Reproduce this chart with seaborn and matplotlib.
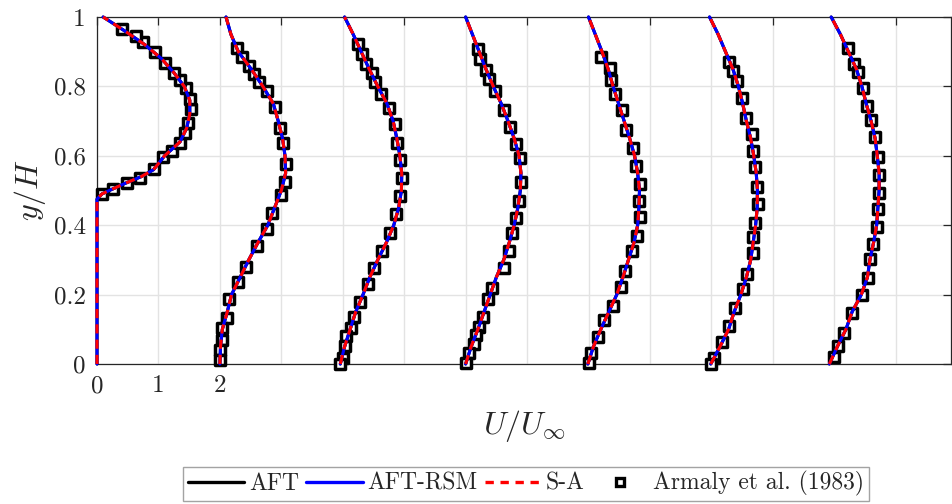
import numpy as np
import pandas as pd
import matplotlib
matplotlib.use("Agg")
import matplotlib.pyplot as plt
from matplotlib.lines import Line2D
import seaborn as sns

# ---------------- data ----------------
offsets = [0, 2, 4, 6, 8, 10, 12]          # horizontal shift of each station
xtick_pos = [0, 1, 2, 3, 5, 7, 9, 11, 13]
xtick_labels = ["0", "1", "2", "", "", "", "", "", ""]
ytick_pos = [0, 0.2, 0.4, 0.6, 0.8, 1.0]
ytick_labels = ["0", "0.2", "0.4", "0.6", "0.8", "1"]
models = ["AFT", "AFT-RSM", "S-A"]

# simulation profiles (all three models coincide within line width)
y_sim = [0, 0.05, 0.1, 0.15, 0.2, 0.25, 0.3, 0.35, 0.4, 0.45, 0.5,
         0.55, 0.6, 0.65, 0.7, 0.75, 0.8, 0.85, 0.9, 0.95, 1.0]
y_sim_1 = [0, 0.2, 0.4, 0.475, 0.49, 0.5, 0.52, 0.54, 0.56, 0.6, 0.64,
           0.68, 0.72, 0.76, 0.8, 0.84, 0.88, 0.92, 0.96, 1.0]
u_sim_1 = [0, 0, 0, 0, 0.08, 0.2, 0.45, 0.72, 0.92, 1.1, 1.35,
           1.46, 1.51, 1.51, 1.42, 1.25, 1.05, 0.78, 0.45, 0.1]
u_sim_2 = [0.0, 0.01, 0.04, 0.12, 0.19, 0.33, 0.47, 0.62, 0.78, 0.89, 1.0,
           1.07, 1.06, 1.02, 0.95, 0.87, 0.7, 0.51, 0.3, 0.18, 0.1]
u_sim_3 = [-0.04, 0.03, 0.12, 0.21, 0.33, 0.44, 0.57, 0.71, 0.83, 0.91, 0.955,
           0.96, 0.93, 0.88, 0.82, 0.72, 0.57, 0.43, 0.3, 0.17, 0.03]
u_sim_4 = [0.0, 0.09, 0.2, 0.3, 0.4, 0.5, 0.62, 0.71, 0.79, 0.85, 0.89,
           0.9, 0.87, 0.79, 0.69, 0.58, 0.45, 0.33, 0.22, 0.11, 0.0]
u_sim_5 = [-0.01, 0.08, 0.2, 0.33, 0.46, 0.56, 0.65, 0.74, 0.8, 0.82, 0.83,
           0.8, 0.75, 0.67, 0.58, 0.49, 0.4, 0.32, 0.22, 0.11, 0.0]
u_sim_6 = [-0.01, 0.14, 0.28, 0.37, 0.48, 0.57, 0.64, 0.68, 0.72, 0.745, 0.75,
           0.73, 0.69, 0.64, 0.57, 0.51, 0.44, 0.35, 0.23, 0.11, -0.03]
u_sim_7 = [-0.08, 0.05, 0.19, 0.29, 0.44, 0.54, 0.58, 0.64, 0.69, 0.71, 0.73,
           0.73, 0.7, 0.665, 0.6, 0.52, 0.45, 0.36, 0.23, 0.1, -0.05]

# Armaly et al. (1983) experiment
exp_u_1 = [0.076, 0.255, 0.483, 0.70, 0.927, 1.079, 1.215, 1.35, 1.432, 1.476,
           1.525, 1.513, 1.443, 1.35, 1.253, 1.106, 0.944, 0.753, 0.635, 0.407]
exp_y_1 = [0.489, 0.505, 0.522, 0.537, 0.561, 0.596, 0.614, 0.638, 0.666, 0.694,
           0.734, 0.763, 0.794, 0.818, 0.839, 0.867, 0.900, 0.927, 0.944, 0.965]
exp_u_2 = [0.272, 0.353, 0.477, 0.553, 0.64, 0.76, 0.895, 0.976, 1.03, 1.074, 1.057,
           0.987, 0.841, 0.76, 0.597, 0.423, 0.298, 0.151, 0.109, 0.037, 0.028, 0.0, 0.0]
exp_y_2 = [0.910, 0.886, 0.860, 0.836, 0.814, 0.787, 0.742, 0.681, 0.636, 0.576, 0.525,
           0.487, 0.436, 0.388, 0.340, 0.280, 0.237, 0.186, 0.132, 0.103, 0.069, 0.040, 0.012]
exp_u_3 = [0.249, 0.321, 0.386, 0.483, 0.521, 0.618, 0.748, 0.846, 0.884, 0.939, 0.971,
           0.939, 0.874, 0.776, 0.646, 0.504, 0.412, 0.277, 0.179, 0.142, 0.06, 0.044,
           0.005, -0.037]
exp_y_3 = [0.921, 0.893, 0.865, 0.838, 0.814, 0.777, 0.739, 0.691, 0.636, 0.588, 0.535,
           0.485, 0.432, 0.377, 0.327, 0.276, 0.230, 0.178, 0.136, 0.105, 0.082, 0.053,
           0.018, 0.0]
exp_u_4 = [0.2, 0.239, 0.337, 0.379, 0.483, 0.623, 0.716, 0.814, 0.879, 0.906, 0.862,
           0.825, 0.76, 0.705, 0.618, 0.434, 0.363, 0.281, 0.216, 0.163, 0.13, 0.054, 0.0]
exp_y_4 = [0.908, 0.878, 0.847, 0.820, 0.787, 0.732, 0.684, 0.634, 0.595, 0.525, 0.471,
           0.420, 0.378, 0.326, 0.276, 0.218, 0.187, 0.136, 0.107, 0.084, 0.057, 0.033, 0.004]
exp_u_5 = [0.207, 0.342, 0.369, 0.439, 0.537, 0.618, 0.732, 0.776, 0.841, 0.822, 0.83,
           0.786, 0.711, 0.594, 0.521, 0.395, 0.26, 0.151, 0.044, 0.0]
exp_y_5 = [0.886, 0.852, 0.818, 0.778, 0.732, 0.674, 0.623, 0.571, 0.520, 0.471, 0.423,
           0.370, 0.326, 0.269, 0.222, 0.168, 0.127, 0.079, 0.031, 0.004]
exp_u_6 = [0.281, 0.358, 0.412, 0.493, 0.565, 0.656, 0.672, 0.711, 0.744, 0.753, 0.716,
           0.683, 0.683, 0.581, 0.509, 0.386, 0.293, 0.168, 0.049, 0.0]
exp_y_6 = [0.871, 0.844, 0.816, 0.766, 0.708, 0.662, 0.615, 0.569, 0.509, 0.460, 0.407,
           0.367, 0.321, 0.259, 0.215, 0.161, 0.110, 0.064, 0.016, 0.0]
exp_u_7 = [0.216, 0.314, 0.379, 0.46, 0.532, 0.597, 0.667, 0.705, 0.732, 0.732, 0.705,
           0.688, 0.635, 0.581, 0.542, 0.444, 0.288, 0.163, 0.054, 0.0]
exp_y_7 = [0.910, 0.864, 0.841, 0.796, 0.744, 0.703, 0.653, 0.597, 0.545, 0.494, 0.446,
           0.394, 0.346, 0.302, 0.249, 0.199, 0.146, 0.088, 0.052, 0.021]

sim_u = [u_sim_1, u_sim_2, u_sim_3, u_sim_4, u_sim_5, u_sim_6, u_sim_7]
sim_y = [y_sim_1] + [y_sim] * 6
exp_u = [exp_u_1, exp_u_2, exp_u_3, exp_u_4, exp_u_5, exp_u_6, exp_u_7]
exp_y = [exp_y_1, exp_y_2, exp_y_3, exp_y_4, exp_y_5, exp_y_6, exp_y_7]

# ---------------- tables ----------------
rows = []
for k, off in enumerate(offsets):
    for m in models:
        for i, (u, y) in enumerate(zip(sim_u[k], sim_y[k])):
            rows.append(dict(station=k, model=m, x=off + u, y=y, order=i))
sim_df = pd.DataFrame(rows)
exp_df = pd.DataFrame([dict(station=k, x=off + u, y=y)
                       for k, off in enumerate(offsets)
                       for u, y in zip(exp_u[k], exp_y[k])])

# ---------------- plot ----------------
sns.set_style("white")
plt.rcParams["font.family"] = ["cmr10", "DejaVu Serif"]
plt.rcParams["mathtext.fontset"] = "cm"
plt.rcParams["axes.unicode_minus"] = False

fig = plt.figure(figsize=(9.52, 5.04), dpi=100)
ax = fig.add_axes([97 / 952, 1 - 364 / 504, (951 - 97) / 952, (364 - 17) / 504])

sns.scatterplot(data=exp_df, x="x", y="y", marker="s", s=60, color="white",
                edgecolor="black", linewidth=2.5, ax=ax, zorder=3, legend=False,
                clip_on=False)

palette = {"AFT": "black", "AFT-RSM": "blue", "S-A": "red"}
dashes = {"AFT": "", "AFT-RSM": "", "S-A": (3, 2)}
sns.lineplot(data=sim_df, x="x", y="y", hue="model", style="model",
             units="station", estimator=None, sort=False, palette=palette,
             dashes=dashes, linewidth=2.2, ax=ax, legend=False, zorder=4,
             clip_on=False)

ax.set_xlim(0, 13.9)
ax.set_ylim(0, 1)
ax.set_xticks(np.arange(0, 14), minor=True)
ax.set_xticks(xtick_pos)
ax.set_xticklabels(xtick_labels)
ax.set_yticks(ytick_pos)
ax.set_yticklabels(ytick_labels)
ax.grid(True, which="both", axis="x", color="#e3e3e3", linewidth=1.0)
ax.grid(True, which="major", axis="y", color="#e3e3e3", linewidth=1.0)
ax.set_axisbelow(True)
ax.tick_params(which="major", direction="in", length=6, width=0.9, top=True,
               right=True, labelsize=18, colors="#262626", pad=8)
ax.tick_params(which="minor", length=0)
for sp in ax.spines.values():
    sp.set_color("#262626")
    sp.set_linewidth(0.9)

ax.set_xlabel(r"$U/U_\infty$", fontsize=23, labelpad=8)
ax.set_ylabel(r"$y/H$", fontsize=23, labelpad=4)

handles = [Line2D([], [], color="black", lw=2.4),
           Line2D([], [], color="blue", lw=2.4),
           Line2D([], [], color="red", lw=2.4, ls=(0, (2.5, 2))),
           Line2D([], [], ls="none", marker="s", markersize=6, mfc="white",
                  mec="black", mew=2.4)]
labels = ["AFT", "AFT-RSM", "S-A", "Armaly et al. (1983)"]
leg = fig.legend(handles, labels, loc="center", bbox_to_anchor=(0.5525, 0.04),
                 ncol=4, fontsize=17, frameon=True, fancybox=False,
                 edgecolor="#8c8c8c", handlelength=2.4, handletextpad=0.2,
                 columnspacing=0.3, borderpad=0.2, borderaxespad=0)
leg.get_frame().set_linewidth(1.0)

fig.savefig("out.png", dpi=100)
